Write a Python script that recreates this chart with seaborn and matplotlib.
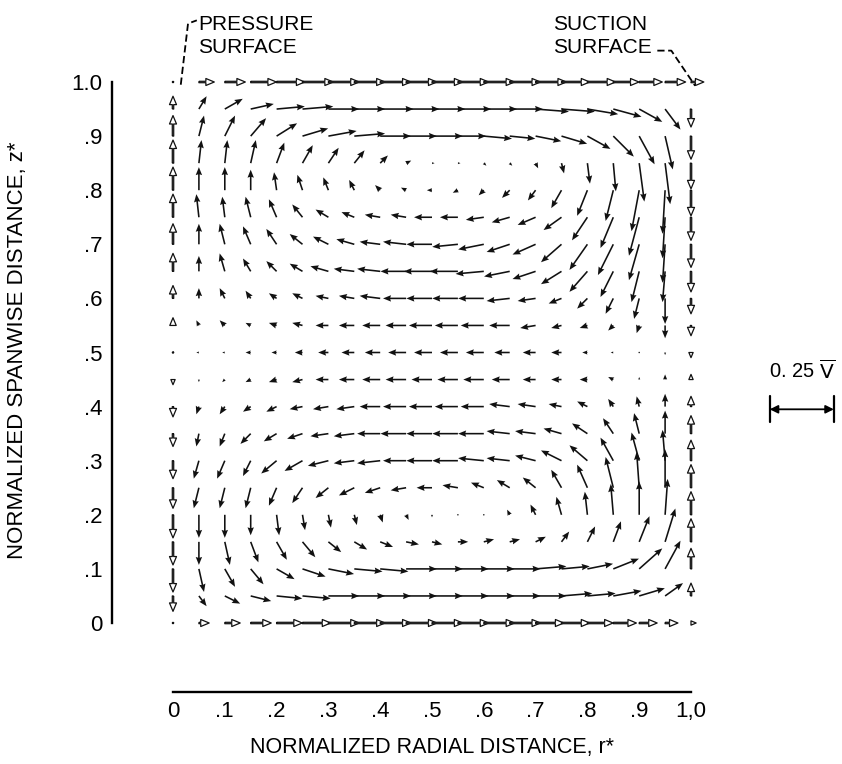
import numpy as np
import seaborn as sns
import matplotlib.pyplot as plt

# grid of the computed secondary-flow field
r_values = [0.0, 0.05, 0.10, 0.15, 0.20, 0.25, 0.30, 0.35, 0.40, 0.45, 0.50,
            0.55, 0.60, 0.65, 0.70, 0.75, 0.80, 0.85, 0.90, 0.95, 1.0]
z_values = [1.0, 0.95, 0.90, 0.85, 0.80, 0.75, 0.70, 0.65, 0.60, 0.55, 0.50,
            0.45, 0.40, 0.35, 0.30, 0.25, 0.20, 0.15, 0.10, 0.05, 0.0]

# radial velocity component, hundredths of V-bar (rows top -> bottom)
u_rows = [
    [0, 6, 8, 10, 11, 12, 12, 12, 12, 12, 12, 12, 12, 12, 12, 11, 11, 10, 9, 8, 5],
    [0, 3, 7, 9, 11, 12, 12, 12, 13, 13, 13, 13, 13, 13, 13, 13, 12, 11, 9, 6, 0],
    [0, 2, 4, 6, 8, 10, 11, 12, 12, 12, 12, 11, 11, 10, 10, 10, 9, 8, 6, 3, 0],
    [0, 1, 1, 2, 3, 4, 4, 4, 3, 2, 1, 1, 1, 1, 1, 1, 1, 1, 2, 2, 0],
    [0, 0, 0, 0, -1, -2, -2, -2, -2, -2, -2, -2, -2, -3, -3, -4, -4, -3, -3, -1, 0],
    [0, -1, -1, -2, -3, -4, -5, -5, -6, -6, -7, -7, -7, -7, -7, -7, -6, -5, -4, -1, 0],
    [0, 0, -2, -3, -4, -5, -6, -7, -8, -9, -10, -10, -10, -9, -9, -8, -7, -6, -4, -1, 0],
    [0, 0, -2, -3, -4, -5, -7, -8, -9, -10, -11, -11, -11, -10, -9, -8, -7, -5, -3, -1, 0],
    [0, 0, -2, -2, -3, -4, -5, -6, -8, -9, -10, -10, -10, -9, -7, -5, -4, -3, -2, 0, 0],
    [0, -1, -2, -2, -3, -4, -5, -6, -7, -8, -9, -9, -9, -8, -6, -4, -3, -2, -1, 0, 0],
    [0, -1, -1, -2, -2, -3, -4, -5, -6, -7, -7, -7, -7, -6, -5, -4, -2, -1, 0, 0, 0],
    [0, 0, -1, -2, -3, -4, -5, -6, -7, -8, -8, -8, -8, -7, -5, -4, -3, -2, 0, 0, 0],
    [0, -1, -2, -3, -4, -5, -6, -7, -8, -9, -9, -9, -9, -8, -7, -5, -4, -2, -1, 0, 0],
    [0, -1, -2, -4, -5, -6, -7, -8, -9, -10, -10, -10, -10, -9, -8, -7, -6, -4, -2, 0, 0],
    [0, -2, -3, -3, -6, -7, -8, -8, -9, -9, -10, -10, -10, -9, -8, -8, -7, -5, -3, -1, 0],
    [0, -2, -2, -2, -3, -4, -5, -6, -6, -6, -6, -6, -5, -5, -5, -4, -4, -3, -1, 0, 0],
    [0, 0, 0, 0, 1, 1, 1, 1, 1, 1, 0, 0, 0, -1, -2, -2, -1, -1, 0, 1, 0],
    [0, 0, 2, 3, 4, 5, 5, 5, 5, 5, 4, 4, 4, 4, 4, 3, 3, 3, 4, 4, 0],
    [0, 2, 4, 5, 7, 9, 10, 11, 11, 12, 12, 12, 12, 12, 12, 11, 10, 10, 9, 6, 0],
    [0, 3, 6, 8, 10, 11, 12, 12, 12, 12, 12, 12, 12, 12, 12, 12, 11, 11, 10, 7, 0],
    [0, 4, 6, 8, 10, 11, 12, 12, 12, 12, 12, 12, 12, 12, 11, 11, 10, 9, 7, 5, 2],
]

# spanwise velocity component, hundredths of V-bar (rows top -> bottom)
v_rows = [
    [0, 0, 0, 0, 0, 0, 0, 0, 0, 0, 0, 0, 0, 0, 0, 0, 0, 0, 0, 0, 0],
    [5, 5, 4, 2, 1, 1, 0, 0, 0, 0, 0, 0, 0, 0, -1, -1, -2, -3, -5, -8, -7],
    [8, 8, 8, 7, 5, 3, 2, 1, 0, 0, 0, 0, -1, -1, -2, -3, -5, -8, -11, -13, -9],
    [9, 9, 9, 9, 8, 7, 6, 5, 3, 1, 0, 0, -1, -1, -2, -4, -8, -11, -15, -16, -10],
    [9, 9, 9, 8, 7, 6, 5, 4, 2, 1, 0, -1, -2, -3, -4, -7, -10, -12, -16, -17, -10],
    [9, 9, 8, 8, 7, 5, 3, 2, 1, 1, 0, 0, -1, -2, -3, -5, -9, -12, -15, -16, -9],
    [8, 8, 8, 7, 6, 4, 3, 2, 1, 1, 0, -1, -2, -3, -4, -7, -10, -12, -14, -15, -9],
    [7, 6, 7, 5, 4, 3, 2, 1, 1, 0, 0, 0, -1, -2, -3, -5, -8, -10, -12, -12, -8],
    [5, 4, 4, 3, 2, 2, 1, 1, 1, 0, 0, 0, 0, -1, -1, -2, -4, -6, -8, -10, -6],
    [3, 2, 2, 1, 1, 1, 0, 0, 0, 0, 0, 0, 0, 0, -1, -1, -1, -2, -3, -5, -4],
    [0, 0, 0, 0, 0, 0, 0, 0, 0, 0, 0, 0, 0, 0, 0, 0, 0, 0, 0, -1, -2],
    [-2, -1, -1, -1, -1, -1, 0, 0, 0, 0, 0, 0, 0, 0, 0, 0, 0, 1, 1, 2, 2],
    [-4, -3, -3, -2, -2, -1, -1, -1, 0, 0, 0, 0, 0, 1, 1, 1, 2, 3, 4, 5, 4],
    [-5, -5, -5, -4, -3, -2, -1, -1, 0, 0, 0, 0, 0, 1, 1, 2, 4, 6, 8, 9, 7],
    [-7, -7, -7, -6, -5, -4, -2, -1, -1, 0, 0, 0, 1, 1, 2, 4, 6, 9, 11, 12, 8],
    [-8, -8, -8, -8, -7, -6, -4, -3, -2, -1, 0, 1, 2, 3, 4, 7, 9, 12, 14, 15, 9],
    [-9, -9, -9, -8, -8, -6, -5, -4, -3, -2, -1, 0, 0, 2, 4, 7, 9, 12, 13, 14, 9],
    [-9, -9, -9, -8, -7, -6, -4, -3, -2, -1, -1, 0, 1, 1, 2, 4, 6, 8, 10, 13, 9],
    [-9, -9, -7, -6, -4, -3, -2, -1, -1, 0, 0, 0, 0, 0, 1, 1, 2, 4, 8, 11, 8],
    [-6, -4, -3, -2, -1, -1, 0, 0, 0, 0, 0, 0, 0, 0, 0, 1, 1, 2, 3, 5, 5],
    [0, 0, 0, 0, 0, 0, 0, 0, 0, 0, 0, 0, 0, 0, 0, 0, 0, 0, 0, 0, 0],
]

tick_positions = [0.0, 0.1, 0.2, 0.3, 0.4, 0.5, 0.6, 0.7, 0.8, 0.9, 1.0]
x_tick_labels = ['0', '.1', '.2', '.3', '.4', '.5', '.6', '.7', '.8', '.9', '1,0']
y_tick_labels = ['0', '.1', '.2', '.3', '.4', '.5', '.6', '.7', '.8', '.9', '1.0']

key_value = 0.25          # reference vector, fraction of V-bar
quiver_scale = 0.39       # V-bar per inch of arrow

sns.set_style('white')
plt.rcParams['font.family'] = ['Liberation Sans', 'DejaVu Sans']
plt.rcParams['text.color'] = 'black'
plt.rcParams['axes.labelcolor'] = 'black'

R, Z = np.meshgrid(r_values, z_values)
U = np.array(u_rows) / 100.0
V = np.array(v_rows) / 100.0

# wall points (pressure/suction surfaces, hub and tip) get open arrowheads
wall = np.zeros(R.shape, dtype=bool)
wall[0, :] = wall[-1, :] = True
wall[:, 0] = wall[:, -1] = True
inner = ~wall

fig = plt.figure(figsize=(8.42, 7.64), dpi=100)
ax = fig.add_axes([173 / 842, 141 / 764, 518 / 842, 541 / 764])

arrow_kw = dict(angles='uv', scale_units='inches', scale=quiver_scale,
                units='dots', pivot='tail', clip_on=False, zorder=3)
ax.quiver(R[inner], Z[inner], U[inner], V[inner], width=1.6, headwidth=4,
          headlength=5, headaxislength=4.5, color='#111111', **arrow_kw)
ax.quiver(R[wall], Z[wall], U[wall], V[wall], width=1.4, headwidth=5,
          headlength=6, headaxislength=6, facecolor='white',
          edgecolor='#111111', linewidth=0.9, **arrow_kw)

ax.set_xlim(0, 1)
ax.set_ylim(0, 1)
ax.set_xticks(tick_positions)
ax.set_xticklabels(x_tick_labels)
ax.set_yticks(tick_positions)
ax.set_yticklabels(y_tick_labels)

sns.despine(ax=ax, offset={'left': 44, 'bottom': 50})
for side in ['left', 'bottom']:
    ax.spines[side].set_linewidth(1.7)
    ax.spines[side].set_color('black')
ax.tick_params(axis='y', direction='in', length=20, width=1.6, pad=7,
               labelsize=16, colors='black')
ax.tick_params(axis='x', direction='in', length=23, width=1.6, pad=6,
               labelsize=16, colors='black')

ax.set_xlabel('NORMALIZED RADIAL DISTANCE, r*', fontsize=15.5)
ax.xaxis.set_label_coords(0.5, -0.21)
ax.set_ylabel('NORMALIZED SPANWISE DISTANCE, z*', fontsize=16)
ax.yaxis.set_label_coords(-0.28, 0.505)

# surface call-outs
ax.text(0.048, 1.085, 'PRESSURE\nSURFACE', fontsize=15, ha='left',
        va='center', linespacing=1.3)
ax.plot([0.015, 0.029, 0.046], [0.995, 1.108, 1.114], color='black', lw=1.3,
        ls=(0, (4, 2)), clip_on=False)
ax.text(0.734, 1.085, 'SUCTION\nSURFACE', fontsize=15, ha='left',
        va='center', linespacing=1.3)
ax.plot([0.935, 0.962, 1.008], [1.058, 1.058, 0.993], color='black', lw=1.3,
        ls=(0, (4, 2)), clip_on=False)

# reference vector
key_len = key_value / quiver_scale * fig.dpi / 518
x0, x1, yk = 1.152, 1.152 + key_len, 0.395
ax.annotate('', xy=(x1, yk), xytext=(x0, yk), xycoords='data',
            arrowprops=dict(arrowstyle='<|-|>', color='black', lw=1.3,
                            shrinkA=0, shrinkB=0, mutation_scale=12),
            annotation_clip=False)
for xb in [x0, x1]:
    ax.plot([xb, xb], [yk - 0.024, yk + 0.024], color='black', lw=1.6,
            clip_on=False)
ax.text((x0 + x1) / 2, yk + 0.07, r'0. 25 $\overline{\mathrm{V}}$', fontsize=14.5,
        ha='center', va='center')

fig.savefig('out.png', dpi=100, facecolor='white')
